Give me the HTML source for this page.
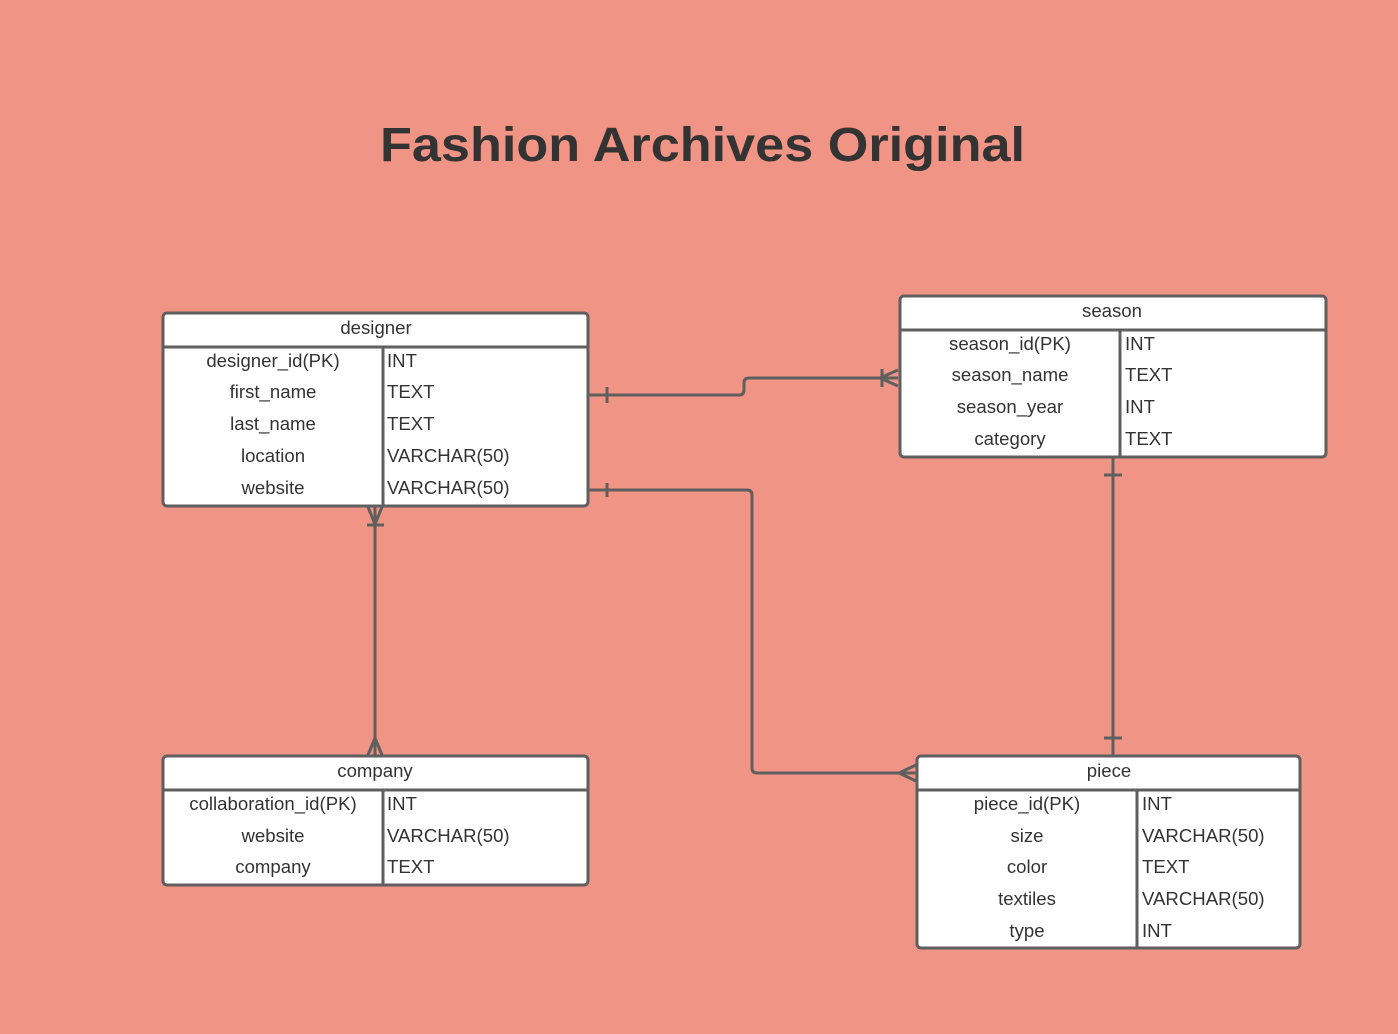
<!DOCTYPE html>
<html><head><meta charset="utf-8"><style>
html,body{margin:0;padding:0;background:#f09485;}
svg{display:block}
text{font-family:"Liberation Sans",sans-serif;font-size:18.6px;fill:#333}
</style></head><body>
<svg width="1398" height="1034" viewBox="0 0 1398 1034">
<rect width="1398" height="1034" fill="#f09485"/>
<text x="380" y="161" textLength="645" lengthAdjust="spacingAndGlyphs" style="font-size:48px;font-weight:bold;fill:#333">Fashion Archives Original</text>
<g fill="none" stroke="#5f5f5f" stroke-width="3">
<path d="M588 395 H739 Q744 395 744 390 V383 Q744 378 749 378 H898"/>
<line x1="607" y1="387" x2="607" y2="403"/>
<path d="M880 378 L898 370 M880 378 L898 386"/>
<line x1="882" y1="369" x2="882" y2="387"/>
<path d="M588 490 H747 Q752 490 752 495 V768 Q752 773 757 773 H916"/>
<line x1="607" y1="483" x2="607" y2="497"/>
<path d="M899 773 L916 765 M899 773 L916 781"/>
<line x1="375" y1="506" x2="375" y2="756"/>
<path d="M375 524 L368 507 M375 524 L382 507"/>
<line x1="367" y1="525" x2="384" y2="525"/>
<path d="M375 738 L368 755 M375 738 L382 755"/>
<line x1="1113" y1="457" x2="1113" y2="756"/>
<line x1="1104" y1="475" x2="1122" y2="475"/>
<line x1="1104" y1="738" x2="1122" y2="738"/>
</g>
<g fill="#fff" stroke="#5f5f5f" stroke-width="3">
<rect x="163" y="313" width="425" height="193" rx="4"/>
<rect x="900" y="296" width="426" height="161" rx="4"/>
<rect x="163" y="756" width="425" height="129" rx="4"/>
<rect x="917" y="756" width="383" height="192" rx="4"/>
<line x1="163" y1="347" x2="588" y2="347"/>
<line x1="383" y1="347" x2="383" y2="506"/>
<line x1="900" y1="330" x2="1326" y2="330"/>
<line x1="1120" y1="330" x2="1120" y2="457"/>
<line x1="163" y1="790" x2="588" y2="790"/>
<line x1="383" y1="790" x2="383" y2="885"/>
<line x1="917" y1="790" x2="1300" y2="790"/>
<line x1="1137" y1="790" x2="1137" y2="948"/>
</g>
<g text-anchor="middle">
<text x="376" y="334">designer</text>
<text x="273" y="367">designer_id(PK)</text>
<text x="273" y="398">first_name</text>
<text x="273" y="430">last_name</text>
<text x="273" y="462">location</text>
<text x="273" y="494">website</text>
<text x="1112" y="317">season</text>
<text x="1010" y="350">season_id(PK)</text>
<text x="1010" y="381">season_name</text>
<text x="1010" y="413">season_year</text>
<text x="1010" y="445">category</text>
<text x="375" y="777">company</text>
<text x="273" y="810">collaboration_id(PK)</text>
<text x="273" y="842">website</text>
<text x="273" y="873">company</text>
<text x="1109" y="777">piece</text>
<text x="1027" y="810">piece_id(PK)</text>
<text x="1027" y="842">size</text>
<text x="1027" y="873">color</text>
<text x="1027" y="905">textiles</text>
<text x="1027" y="937">type</text>
</g>
<g>
<text x="387" y="367">INT</text>
<text x="387" y="398">TEXT</text>
<text x="387" y="430">TEXT</text>
<text x="387" y="462">VARCHAR(50)</text>
<text x="387" y="494">VARCHAR(50)</text>
<text x="1125" y="350">INT</text>
<text x="1125" y="381">TEXT</text>
<text x="1125" y="413">INT</text>
<text x="1125" y="445">TEXT</text>
<text x="387" y="810">INT</text>
<text x="387" y="842">VARCHAR(50)</text>
<text x="387" y="873">TEXT</text>
<text x="1142" y="810">INT</text>
<text x="1142" y="842">VARCHAR(50)</text>
<text x="1142" y="873">TEXT</text>
<text x="1142" y="905">VARCHAR(50)</text>
<text x="1142" y="937">INT</text>
</g>
</svg>
</body></html>
